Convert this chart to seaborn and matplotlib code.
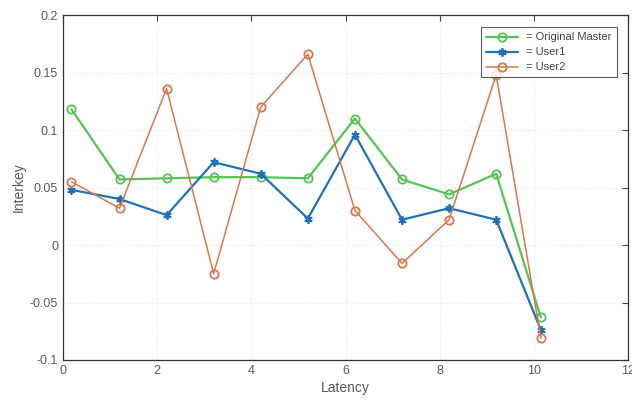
import pandas as pd
import numpy as np
import seaborn as sns
import matplotlib.pyplot as plt

# values
latency = [0.18, 1.2, 2.2, 3.2, 4.2, 5.2, 6.2, 7.2, 8.2, 9.2, 10.15]
original_master = [0.118, 0.057, 0.058, 0.059, 0.059, 0.058, 0.110, 0.057, 0.044, 0.062, -0.063]
user1 = [0.048, 0.040, 0.026, 0.072, 0.062, 0.023, 0.096, 0.022, 0.032, 0.022, -0.074]
user2 = [0.055, 0.032, 0.136, -0.025, 0.120, 0.166, 0.030, -0.016, 0.022, 0.148, -0.081]
series_names = ['Original Master', 'User1', 'User2']

df = pd.DataFrame({
    'Latency': latency * 3,
    'Interkey': original_master + user1 + user2,
    'Series': np.repeat(series_names, len(latency)),
})

sns.set_style('white')
plt.rcParams['font.family'] = ['Liberation Sans', 'DejaVu Sans']

colors = {'Original Master': '#55c455', 'User1': '#1f72b8', 'User2': '#d9774f'}
markers = {'Original Master': 'o', 'User1': (6, 2, 0), 'User2': 'o'}
widths = {'Original Master': 1.6, 'User1': 1.6, 'User2': 1.1}

fig = plt.figure(figsize=(6.32, 4.03), dpi=100)
ax = fig.add_axes([0.0997, 0.1067, 0.894, 0.856])

# one call per series, since seaborn won't mix filled and line-art markers
for name in series_names:
    sub = df[df['Series'] == name]
    sns.lineplot(data=sub, x='Latency', y='Interkey', color=colors[name],
                 marker=markers[name], markersize=6, markerfacecolor='none',
                 markeredgecolor=colors[name], markeredgewidth=1.3,
                 linewidth=widths[name], label='= ' + name, ax=ax)

ax.set_xlim(0, 12)
ax.set_ylim(-0.1, 0.2)
ax.set_xticks(np.arange(0, 13, 2))
ax.set_yticks([-0.1, -0.05, 0, 0.05, 0.1, 0.15, 0.2])
ax.set_yticklabels(['-0.1', '-0.05', '0', '0.05', '0.1', '0.15', '0.2'])
ax.grid(True, color='#e8e8e8', linestyle=':', linewidth=0.8)

text_color = '#5a5a5a'
ax.tick_params(direction='in', length=4, colors='#444444', labelcolor=text_color,
               labelsize=9, top=True, right=True, labeltop=False, labelright=False)
for s in ax.spines.values():
    s.set_color('#333333')
    s.set_linewidth(0.9)

ax.set_xlabel('Latency', color=text_color, fontsize=10, labelpad=3)
ax.set_ylabel('Interkey', color=text_color, fontsize=10, labelpad=3)

leg = ax.legend(loc='upper right', fontsize=8, frameon=True, fancybox=False,
                borderpad=0.45, handlelength=2.8, labelspacing=0.45,
                bbox_to_anchor=(0.99, 0.98))
leg.get_frame().set_edgecolor('#333333')
leg.get_frame().set_linewidth(0.8)
for t in leg.get_texts():
    t.set_color('#444444')

fig.savefig('out.png', dpi=100)
